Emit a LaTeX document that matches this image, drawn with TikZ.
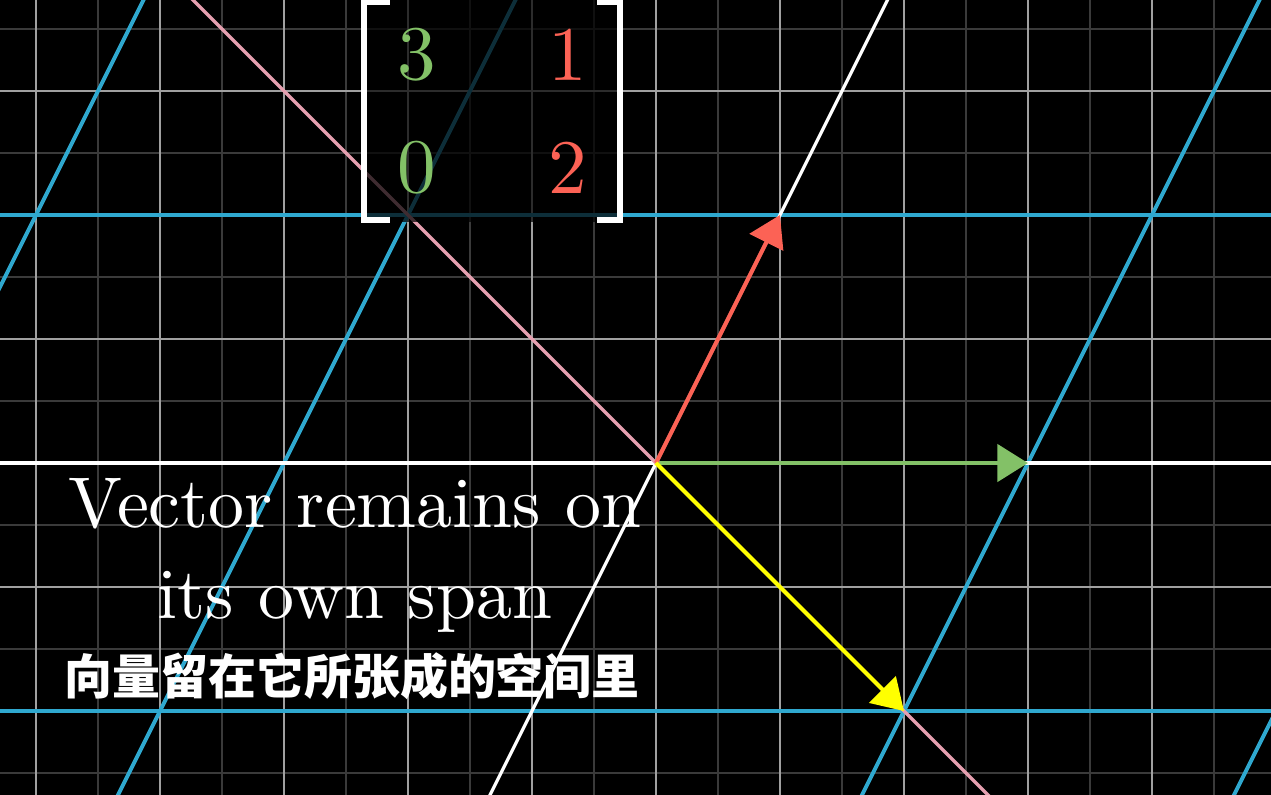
\documentclass[tikz,border=0pt]{standalone}
\usepackage{fontspec}
\newfontfamily\cjk{Noto Sans CJK SC}
\newfontfamily\lmten{lmroman10-regular}[Extension=.otf]
\usetikzlibrary{arrows.meta}
\definecolor{gridgray}{HTML}{A0A0A0}
\definecolor{gridfaint}{HTML}{3A3A3A}
\definecolor{spanblue}{HTML}{2FA8CF}
\definecolor{eigenpink}{HTML}{E5A0B0}
\definecolor{ihatgreen}{HTML}{83C167}
\definecolor{jhatred}{HTML}{FC6255}
\definecolor{vecyellow}{HTML}{FFFF00}
\tikzset{
  mainline/.style={draw=gridgray,line width=0.5pt},
  faintline/.style={draw=gridfaint,line width=0.5pt},
  basisline/.style={draw=spanblue,line width=0.9pt},
  axisline/.style={draw=white,line width=0.75pt},
  spanline/.style={draw=eigenpink,line width=0.75pt},
  vec/.style={-{Triangle[length=7pt,width=8.5pt]},line width=0.95pt,draw=#1,fill=#1},
  entry/.style={font=\lmten\fontsize{17.7}{20}\selectfont,text=#1,inner sep=0pt},
  bracket/.style={draw=white,line width=1.2pt,line join=miter},
  caption/.style={text=white,font=\lmten\fontsize{16.5}{20}\selectfont,inner sep=0pt,anchor=base},
  subtitle/.style={text=white,font=\cjk\bfseries\fontsize{11}{13}\selectfont,inner sep=0pt}
}
\begin{document}
\begin{tikzpicture}
\useasboundingbox (-5.29,-2.677) rectangle (4.96,3.734);
\clip (-5.29,-2.677) rectangle (4.96,3.734);
\fill[black] (-5.29,-2.677) rectangle (4.96,3.734);
% background grid
\foreach \x in {-5.5,-4.5,...,4.5} \draw[faintline] (\x,-3) -- (\x,4);
\foreach \y in {-2.5,-1.5,...,3.5} \draw[faintline] (-6,\y) -- (5,\y);
\foreach \x in {-5,...,4} \draw[mainline] (\x,-3) -- (\x,4);
\foreach \y in {-2,...,3} \draw[mainline] (-6,\y) -- (5,\y);
% transformed grid
\foreach \y in {-2,2} \draw[basisline] (-6,\y) -- (5,\y);
\foreach \c in {-2,-1,1,2} \draw[basisline] ({3*\c-2},-4) -- ({3*\c+2},4);
\draw[axisline] (-6,0) -- (5,0);
\draw[axisline] (-2,-4) -- (2,4);
\draw[spanline] (-4,4) -- (4,-4);
% vectors
\coordinate (O) at (0,0);
\coordinate (ihat) at (3,0);
\coordinate (jhat) at (1,2);
\coordinate (v) at (2,-2);
\draw[vec=ihatgreen] (O) -- (ihat);
\draw[vec=jhatred] (O) -- (jhat);
\draw[vec=vecyellow] (O) -- (v);
% matrix
\fill[black,opacity=0.72] (-2.38,1.94) rectangle (-0.27,3.8);
\node[entry=ihatgreen] (a11) at (-1.927,3.29) {3};
\node[entry=jhatred] (a12) at (-0.710,3.29) {1};
\node[entry=ihatgreen] (a21) at (-1.927,2.38) {0};
\node[entry=jhatred] (a22) at (-0.710,2.38) {2};
\draw[bracket] (-2.145,1.96) -- (-2.355,1.96) -- (-2.355,3.718) -- (-2.145,3.718);
\draw[bracket] (-0.476,1.96) -- (-0.290,1.96) -- (-0.290,3.718) -- (-0.476,3.718);
% captions
\node[caption] (line1) at (-2.427,-0.524) {Vector remains on};
\node[caption] (line2) at (-2.427,-1.25) {its own span};
\node[subtitle] (zh) at (-2.45,-1.718) {向量留在它所张成的空间里};
\end{tikzpicture}
\end{document}
